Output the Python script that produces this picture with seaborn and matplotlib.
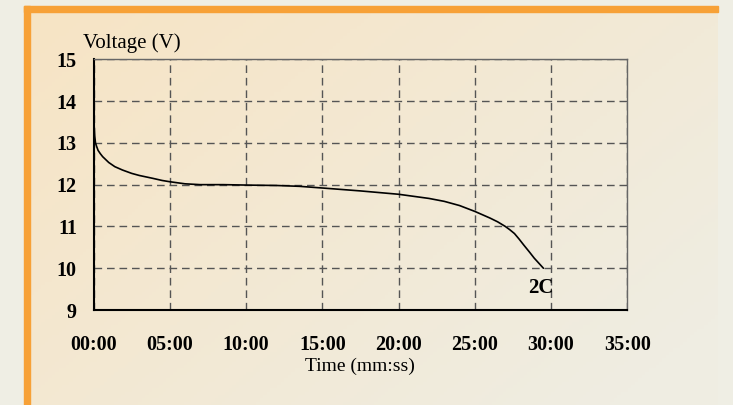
import numpy as np
import pandas as pd
import matplotlib
matplotlib.use("Agg")
import matplotlib.pyplot as plt
from matplotlib.patches import Rectangle
import seaborn as sns

# discharge curve (time in minutes, voltage in V)
time_min = [0, 0.03, 0.07, 0.13, 0.2, 0.3, 0.45, 0.6, 0.8, 1.0, 1.4, 1.9, 2.5,
            3.0, 3.9, 4.5, 5.0, 6.0, 7.0, 8.5, 10.0, 12.0, 13.5, 15.0, 17.5,
            20.0, 22.0, 23.0, 24.0, 25.0, 26.0, 26.5, 27.0, 27.3, 27.6, 27.9,
            28.2, 28.6, 28.9, 29.2, 29.5]
voltage = [14.2, 13.5, 13.2, 13.0, 12.92, 12.82, 12.74, 12.67, 12.6, 12.53,
           12.43, 12.35, 12.27, 12.22, 12.15, 12.1, 12.07, 12.02, 12.0, 12.0,
           11.99, 11.98, 11.96, 11.92, 11.85, 11.77, 11.67, 11.6, 11.5, 11.36,
           11.2, 11.11, 11.0, 10.92, 10.83, 10.7, 10.56, 10.38, 10.24, 10.12,
           10.0]
x_ticks = [0, 5, 10, 15, 20, 25, 30, 35]
x_labels = ["00:00", "05:00", "10:00", "15:00", "20:00", "25:00", "30:00", "35:00"]
y_ticks = [9, 10, 11, 12, 13, 14, 15]
curve_label = "2C"

df = pd.DataFrame({"t": time_min, "v": voltage})

sns.set_style("white")
plt.rcParams["font.family"] = ["Liberation Serif", "DejaVu Serif"]

W, H = 733, 405
fig = plt.figure(figsize=(W / 100, H / 100), dpi=100)
fig.patch.set_facecolor("#EFEEE4")

# panel with soft gradient
bg = fig.add_axes([24 / W, 0, (718 - 24) / W, (405 - 6) / H])
bg.set_axis_off()
gx, gy = np.meshgrid(np.linspace(0, 1, 200), np.linspace(0, 1, 120))
g = np.clip((gx * 0.65 + gy * 0.45), 0, 1)[..., None]
c0 = np.array([247, 228, 196]) / 255
c1 = np.array([239, 237, 226]) / 255
bg.imshow(c0 * (1 - g) + c1 * g, aspect="auto", extent=[0, 1, 0, 1], origin="upper")
bg.set_xlim(0, 1)
bg.set_ylim(0, 1)
fig.patches.append(Rectangle((24 / W, (405 - 12) / H), (718 - 24) / W, 6 / H,
                             transform=fig.transFigure, color="#F7A137", zorder=5))
fig.patches.append(Rectangle((24 / W, 0), 6 / W, (405 - 6) / H,
                             transform=fig.transFigure, color="#F7A137", zorder=5))

ax = fig.add_axes([93.5 / W, 1 - 310 / H, (627.3 - 93.5) / W, (310 - 59.3) / H])
ax.set_facecolor("none")
sns.lineplot(data=df, x="t", y="v", ax=ax, color="black", linewidth=1.2,
             sort=False, estimator=None)

ax.set_xlim(0, 35)
ax.set_ylim(9, 15)
ax.set_xticks(x_ticks)
ax.set_xticklabels(x_labels)
ax.set_yticks(y_ticks)
ax.tick_params(axis="both", length=0, labelsize=14.5, labelcolor="black")
ax.tick_params(axis="x", pad=18)
ax.tick_params(axis="y", pad=12)
for lab in ax.get_xticklabels() + ax.get_yticklabels():
    lab.set_fontweight("bold")

ax.grid(True, color="#555555", linestyle=(0, (5.5, 3.5)), linewidth=1)
for s in ["left", "bottom"]:
    ax.spines[s].set_color("black")
    ax.spines[s].set_linewidth(1.5)
for s in ["top", "right"]:
    ax.spines[s].set_color("#666666")
    ax.spines[s].set_linewidth(1)

ax.set_xlabel("Time (mm:ss)", fontsize=14, labelpad=2, color="black")
ax.set_ylabel("")
ax.text(-0.02, 1.065, "Voltage (V)", transform=ax.transAxes, fontsize=15,
        ha="left", va="center", color="black")
ax.text(29.3, 9.53, curve_label, fontsize=15, fontweight="bold",
        ha="center", va="center", color="black")

fig.savefig("out.png", dpi=100)
